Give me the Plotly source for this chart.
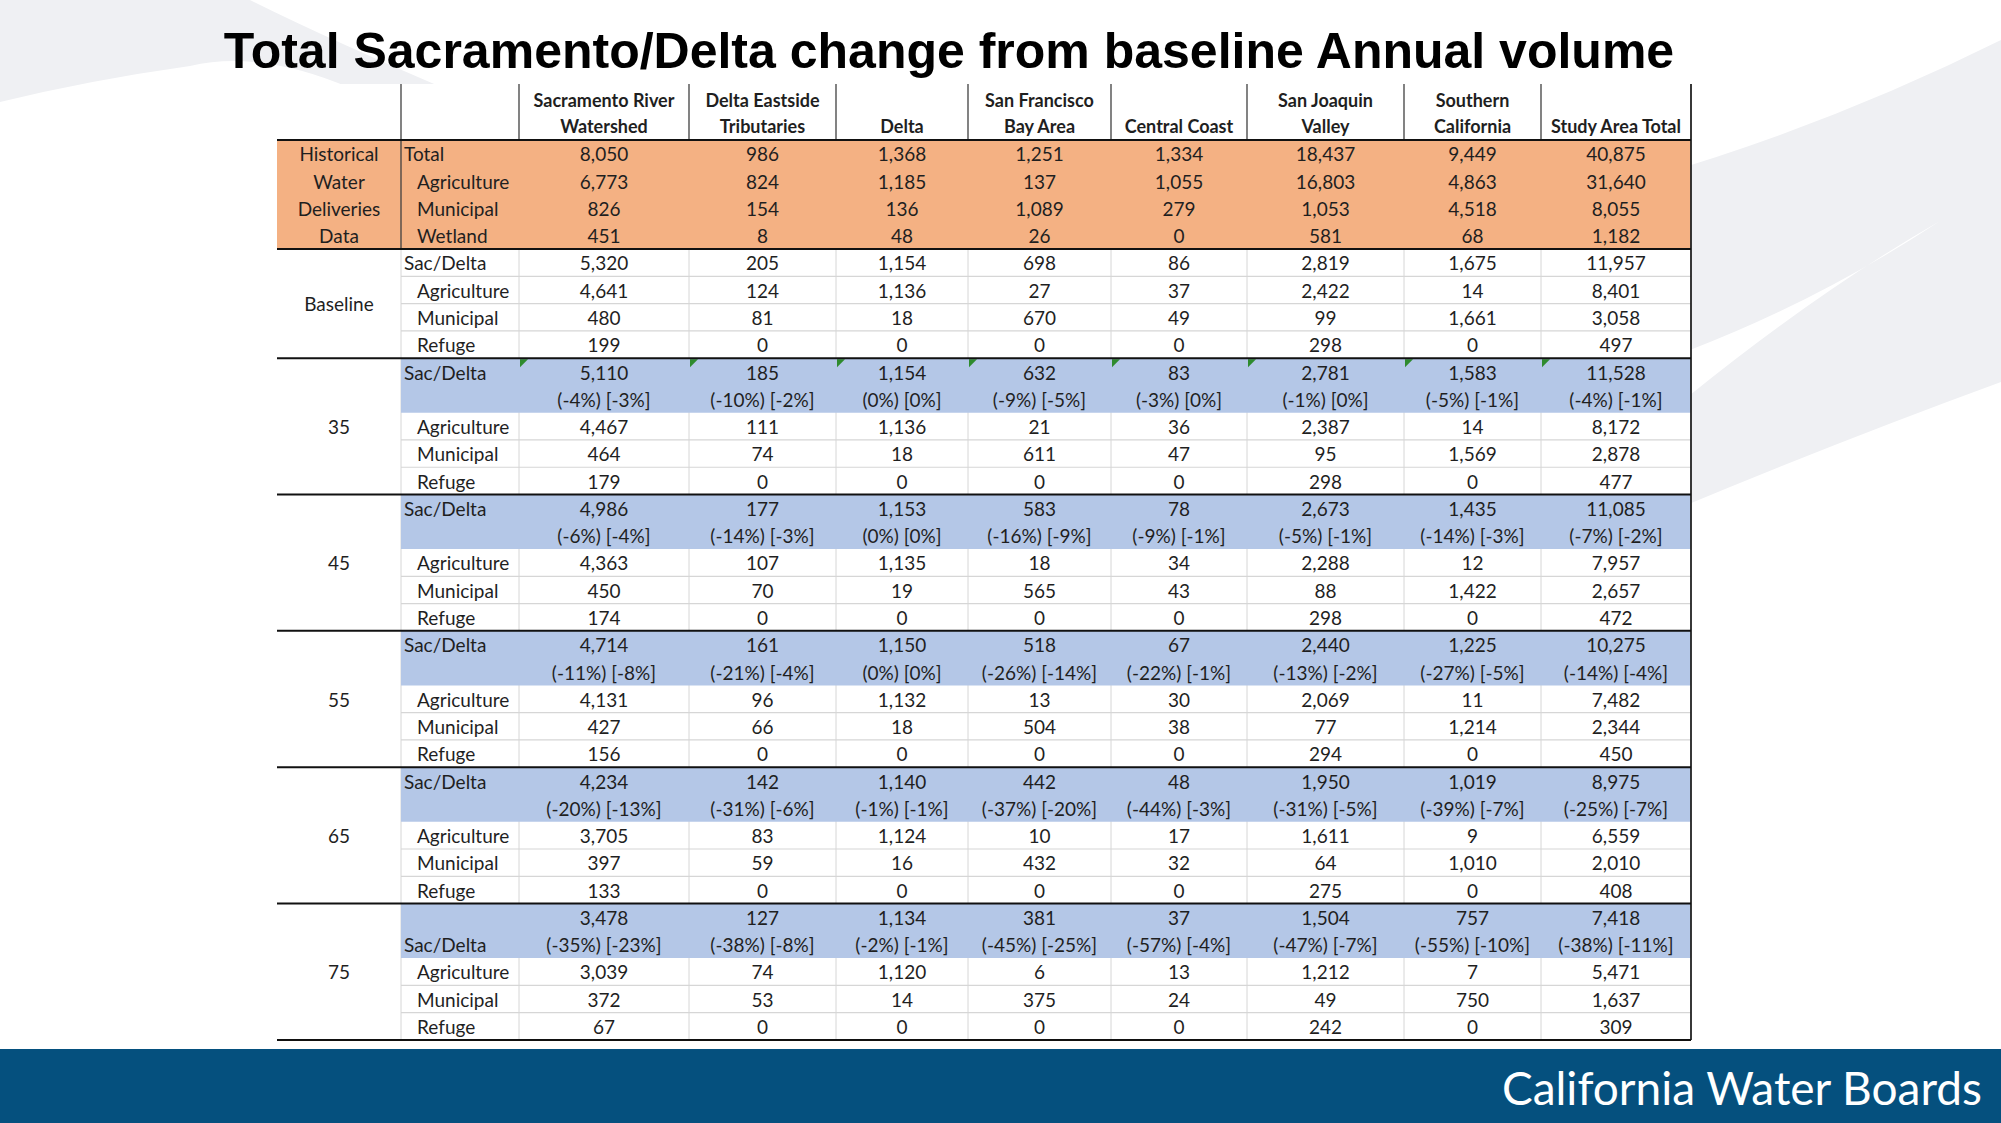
import plotly.graph_objects as go

# ---------------- data ----------------
regions = ["Sacramento River\nWatershed", "Delta Eastside\nTributaries", "Delta",
           "San Francisco\nBay Area", "Central Coast", "San Joaquin\nValley",
           "Southern\nCalifornia", "Study Area Total"]

hist_group = ["Historical", "Water", "Deliveries", "Data"]
hist_labels = ["Total", "Agriculture", "Municipal", "Wetland"]
hist_total = [8050, 986, 1368, 1251, 1334, 18437, 9449, 40875]
hist_ag = [6773, 824, 1185, 137, 1055, 16803, 4863, 31640]
hist_mun = [826, 154, 136, 1089, 279, 1053, 4518, 8055]
hist_wet = [451, 8, 48, 26, 0, 581, 68, 1182]

row_labels = ["Sac/Delta", "Agriculture", "Municipal", "Refuge"]

base_sac = [5320, 205, 1154, 698, 86, 2819, 1675, 11957]
base_ag = [4641, 124, 1136, 27, 37, 2422, 14, 8401]
base_mun = [480, 81, 18, 670, 49, 99, 1661, 3058]
base_ref = [199, 0, 0, 0, 0, 298, 0, 497]

scenarios = ["35", "45", "55", "65", "75"]

s35_sac = [5110, 185, 1154, 632, 83, 2781, 1583, 11528]
s35_pb = [-4, -10, 0, -9, -3, -1, -5, -4]
s35_ph = [-3, -2, 0, -5, 0, 0, -1, -1]
s35_ag = [4467, 111, 1136, 21, 36, 2387, 14, 8172]
s35_mun = [464, 74, 18, 611, 47, 95, 1569, 2878]
s35_ref = [179, 0, 0, 0, 0, 298, 0, 477]

s45_sac = [4986, 177, 1153, 583, 78, 2673, 1435, 11085]
s45_pb = [-6, -14, 0, -16, -9, -5, -14, -7]
s45_ph = [-4, -3, 0, -9, -1, -1, -3, -2]
s45_ag = [4363, 107, 1135, 18, 34, 2288, 12, 7957]
s45_mun = [450, 70, 19, 565, 43, 88, 1422, 2657]
s45_ref = [174, 0, 0, 0, 0, 298, 0, 472]

s55_sac = [4714, 161, 1150, 518, 67, 2440, 1225, 10275]
s55_pb = [-11, -21, 0, -26, -22, -13, -27, -14]
s55_ph = [-8, -4, 0, -14, -1, -2, -5, -4]
s55_ag = [4131, 96, 1132, 13, 30, 2069, 11, 7482]
s55_mun = [427, 66, 18, 504, 38, 77, 1214, 2344]
s55_ref = [156, 0, 0, 0, 0, 294, 0, 450]

s65_sac = [4234, 142, 1140, 442, 48, 1950, 1019, 8975]
s65_pb = [-20, -31, -1, -37, -44, -31, -39, -25]
s65_ph = [-13, -6, -1, -20, -3, -5, -7, -7]
s65_ag = [3705, 83, 1124, 10, 17, 1611, 9, 6559]
s65_mun = [397, 59, 16, 432, 32, 64, 1010, 2010]
s65_ref = [133, 0, 0, 0, 0, 275, 0, 408]

s75_sac = [3478, 127, 1134, 381, 37, 1504, 757, 7418]
s75_pb = [-35, -38, -2, -45, -57, -47, -55, -38]
s75_ph = [-23, -8, -1, -25, -4, -7, -10, -11]
s75_ag = [3039, 74, 1120, 6, 13, 1212, 7, 5471]
s75_mun = [372, 53, 14, 375, 24, 49, 750, 1637]
s75_ref = [67, 0, 0, 0, 0, 242, 0, 309]

title = "Total Sacramento/Delta change from baseline Annual volume"
footer = "California Water Boards"

# ---------------- style / layout ----------------
W, H = 2001, 1123
COL_EDGES = [277, 401, 519, 689, 836, 968, 1111, 1247, 1404, 1541, 1691]
HEAD_TOP, HEAD_BOT, UNIT = 84, 140, 27.27
TEXT_DY = 3
ORANGE = "#F4B183"
BLUE = "#B4C7E7"
LIGHT = "#D6D6D6"
DARK = "#404040"
TXT = "#1f1f1f"
WATERMARK = "#EFF0F3"
FONT = "Lato"
BODY_SIZE = 19
SAC_LABEL_LINE = [0, 0, 0, 0, 1]   # which line the Sac/Delta label sits on per scenario

hist_rows = [hist_total, hist_ag, hist_mun, hist_wet]
base_rows = [base_sac, base_ag, base_mun, base_ref]
scen_rows = [
    (s35_sac, s35_pb, s35_ph, s35_ag, s35_mun, s35_ref),
    (s45_sac, s45_pb, s45_ph, s45_ag, s45_mun, s45_ref),
    (s55_sac, s55_pb, s55_ph, s55_ag, s55_mun, s55_ref),
    (s65_sac, s65_pb, s65_ph, s65_ag, s65_mun, s65_ref),
    (s75_sac, s75_pb, s75_ph, s75_ag, s75_mun, s75_ref),
]


def fmt(v):
    return f"{v:,}"


def pct(b, h):
    return f"({b}%) [{h}%]"


colc = [(COL_EDGES[i] + COL_EDGES[i + 1]) / 2 for i in range(len(COL_EDGES) - 1)]
XL, XR = COL_EDGES[0], COL_EDGES[-1]


def ytop(u):
    return HEAD_BOT + u * UNIT


def yc(u):
    return HEAD_BOT + (u + 0.5) * UNIT + TEXT_DY


pts = {}


def add(key, x, y, t):
    d = pts.setdefault(key, ([], [], []))
    d[0].append(x)
    d[1].append(y)
    d[2].append(t)


below = []   # fills, drawn under the text
above = []   # rules, drawn over everything


def rect(x0, y0, x1, y1, color):
    below.append(dict(type="rect", xref="x", yref="y", x0=x0, x1=x1, y0=y0, y1=y1,
                      fillcolor=color, line=dict(width=0), layer="below"))


def path(p, color, layer="below"):
    (below if layer == "below" else above).append(
        dict(type="path", xref="x", yref="y", path=p, fillcolor=color,
             line=dict(width=0), layer=layer))


def line(x0, y0, x1, y1, color, width, layer="above"):
    (below if layer == "below" else above).append(
        dict(type="line", xref="x", yref="y", x0=x0, x1=x1, y0=y0, y1=y1,
             line=dict(color=color, width=width), layer=layer))


# background watermark swooshes
path("M 0 0 L 250 0 Q 330 40 460 95 L 460 150 Q 300 40 190 66 Q 90 80 0 102 Z", WATERMARK)
path("M 1500 215 Q 1760 160 2001 40 L 2001 382 Q 1760 470 1500 585 Z", WATERMARK)
path("M 1690 350 Q 1820 300 1940 221 Q 1820 290 1690 395 Z", "#FFFFFF")

# table background, light rules under fills, fills
rect(XL, HEAD_TOP, XR, ytop(33), "#FFFFFF")
for xe in COL_EDGES[1:-1]:
    line(xe, ytop(4), xe, ytop(33), LIGHT, 1, layer="below")
rect(XL, ytop(0), XR, ytop(4), ORANGE)

# header
for j, name in enumerate(regions):
    parts = name.split("\n")
    if len(parts) == 1:
        parts = ["", parts[0]]
    add(("head", "middle center"), colc[2 + j], 102, parts[0])
    add(("head", "middle center"), colc[2 + j], 128, parts[1])

# historical block
for i, (lab, vals) in enumerate(zip(hist_labels, hist_rows)):
    y = yc(i)
    add(("body", "middle right"), COL_EDGES[1] + (3 if i == 0 else 16), y, lab)
    add(("body", "middle center"), colc[0], y, hist_group[i])
    for j, v in enumerate(vals):
        add(("body", "middle center"), colc[2 + j], y, fmt(v))

# baseline block
add(("body", "middle center"), colc[0], ytop(6) + TEXT_DY, "Baseline")
for i, (lab, vals) in enumerate(zip(row_labels, base_rows)):
    u = 4 + i
    y = yc(u)
    add(("body", "middle right"), COL_EDGES[1] + (3 if i == 0 else 16), y, lab)
    for j, v in enumerate(vals):
        add(("body", "middle center"), colc[2 + j], y, fmt(v))
    if i > 0:
        line(COL_EDGES[1], ytop(u), XR, ytop(u), LIGHT, 1.2)

# scenario blocks
for k, (name, rows) in enumerate(zip(scenarios, scen_rows)):
    s0 = 8 + 5 * k
    sac, pb, ph, ag, mun, ref = rows
    rect(COL_EDGES[1], ytop(s0), XR, ytop(s0 + 2), BLUE)
    add(("body", "middle center"), colc[0], yc(s0 + 2), name)
    add(("body", "middle right"), COL_EDGES[1] + 3, yc(s0 + SAC_LABEL_LINE[k]), row_labels[0])
    for j in range(len(sac)):
        add(("body", "middle center"), colc[2 + j], yc(s0), fmt(sac[j]))
        add(("body", "middle center"), colc[2 + j], yc(s0 + 1), pct(pb[j], ph[j]))
    for i, vals in enumerate([ag, mun, ref]):
        u = s0 + 2 + i
        add(("body", "middle right"), COL_EDGES[1] + 16, yc(u), row_labels[1 + i])
        for j, v in enumerate(vals):
            add(("body", "middle center"), colc[2 + j], yc(u), fmt(v))
        if i > 0:
            line(COL_EDGES[1], ytop(u), XR, ytop(u), LIGHT, 1.2)
    if k == 0:
        # spreadsheet error-indicator marks
        for xe in COL_EDGES[2:-1]:
            y0 = ytop(s0)
            path(f"M {xe+1} {y0+1} L {xe+9} {y0+1} L {xe+1} {y0+9} Z", "#2E8B2E", layer="above")

# header and orange dividers
for xe in COL_EDGES[1:-1]:
    line(xe, HEAD_TOP, xe, HEAD_BOT, DARK, 1.3)
line(COL_EDGES[1], HEAD_BOT, COL_EDGES[1], ytop(4), DARK, 1.3)
line(XR, HEAD_TOP, XR, ytop(33), "#222222", 1.8)

# thick horizontal separators
for u in [0, 4, 8, 13, 18, 23, 28, 33]:
    line(XL, ytop(u), XR, ytop(u), "#111111", 2)

# footer banner
rect(0, 1049, W, H, "#05507E")

fig = go.Figure()
for (kind, pos), (xs, ys, ts) in pts.items():
    fig.add_trace(go.Scatter(
        x=xs, y=ys, text=ts, mode="text", textposition=pos,
        textfont=dict(family=FONT, size=18 if kind == "head" else BODY_SIZE,
                      color=TXT, weight="bold" if kind == "head" else "normal"),
        hoverinfo="skip", showlegend=False))

fig.add_trace(go.Scatter(
    x=[949], y=[55], text=[f"<b>{title}</b>"], mode="text", textposition="middle center",
    textfont=dict(family="Liberation Sans, Arial", size=50, color="#000000"),
    hoverinfo="skip", showlegend=False))

fig.add_trace(go.Scatter(
    x=[1982], y=[1093], text=[footer], mode="text", textposition="middle left",
    textfont=dict(family=FONT, size=46, color="#FFFFFF"),
    hoverinfo="skip", showlegend=False))

fig.update_layout(
    width=W, height=H, margin=dict(l=0, r=0, t=0, b=0),
    paper_bgcolor="#FFFFFF", plot_bgcolor="#FFFFFF",
    xaxis=dict(range=[0, W], visible=False, fixedrange=True),
    yaxis=dict(range=[H, 0], visible=False, fixedrange=True),
    shapes=below + above, showlegend=False,
)

fig.write_html("out.html", config={"displayModeBar": False},
               post_script="document.body.style.margin='0';")
